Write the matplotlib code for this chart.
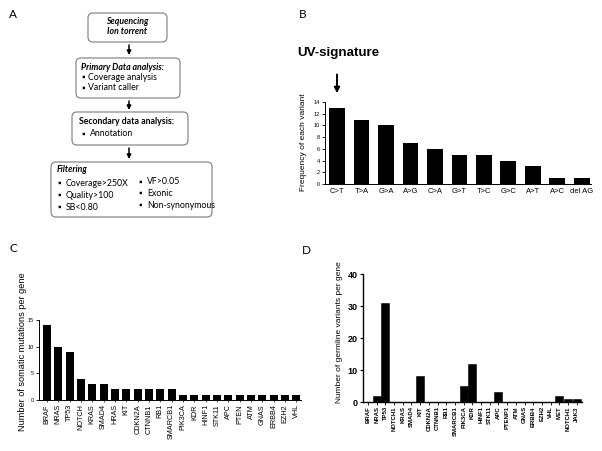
import numpy as np
import matplotlib
matplotlib.use("Agg")
import matplotlib.pyplot as plt
from matplotlib.patches import FancyBboxPatch

plt.rcParams["font.family"] = ["Liberation Sans", "DejaVu Sans"]

# ---- data -------------------------------------------------------------
uv_labels = ["C>T", "T>A", "G>A", "A>G", "C>A", "G>T", "T>C", "G>C", "A>T", "A>C", "del AG"]
uv_counts = [13, 11, 10, 7, 6, 5, 5, 4, 3, 1, 1]

somatic_genes = ["BRAF", "NRAS", "TP53", "NOTCH", "KRAS", "SMAD4", "HRAS", "KIT", "CDKN2A",
                 "CTNNB1", "RB1", "SMARCB1", "PIK3CA", "KDR", "HINF1", "STK11", "APC",
                 "PTEN", "ATM", "GNAS", "ERBB4", "EZH2", "VHL"]
somatic_counts = [14, 10, 9, 4, 3, 3, 2, 2, 2, 2, 2, 2, 1, 1, 1, 1, 1, 1, 1, 1, 1, 1, 1]

germline_genes = ["BRAF", "NRAS", "TP53", "NOTCH1", "KRAS", "SMAD4", "KIT", "CDKN2A", "CTNNB1",
                  "RB1", "SMARCB1", "PIK3CA", "KDR", "HINF1", "STK11", "APC", "PTENP1", "ATM",
                  "GNAS", "ERBB4", "EZH2", "VHL", "MET", "NOTCH1", "JAK3"]
germline_counts = [0, 2, 31, 0, 0, 0, 8, 0, 0, 0, 0, 5, 12, 0, 0, 3, 0, 0, 0, 0, 0, 0, 2, 1, 1]

W, H = 602, 451
fig = plt.figure(figsize=(W / 100, H / 100), dpi=100)

# overlay in pixel coordinates for panel A and panel letters
ov = fig.add_axes([0, 0, 1, 1])
ov.set_xlim(0, W)
ov.set_ylim(H, 0)
ov.axis("off")

FLOW = ["Lato", "DejaVu Sans"]
fs = 6.3

def box(x0, y0, x1, y1):
    p = FancyBboxPatch((x0, y0), x1 - x0, y1 - y0,
                       boxstyle="round,pad=0,rounding_size=5",
                       fc="white", ec="#8a8a8a", lw=0.9)
    ov.add_patch(p)

def arrow(x, y0, y1):
    ov.annotate("", xy=(x, y1), xytext=(x, y0),
                arrowprops=dict(arrowstyle="-|>", color="black", lw=1.1,
                                mutation_scale=6, shrinkA=0, shrinkB=0))

box(88, 13, 167, 42)
box(76, 58, 180, 98)
box(72, 112, 188, 145)
box(51, 162, 212, 217)
arrow(129, 45, 55)
arrow(129, 101, 110)
arrow(129, 148, 159)

txt = dict(family=FLOW, fontsize=fs, va="center")
ov.text(127, 22, "Sequencing", ha="center", weight="bold", style="italic", **txt)
ov.text(127, 32, "Ion torrent", ha="center", weight="bold", style="italic", **txt)

ov.text(81, 67, "Primary Data analysis:", ha="left", weight="bold", style="italic", **txt)
for y, s in [(77, "Coverage analysis"), (88, "Variant caller")]:
    ov.text(81, y, "\u25aa", ha="left", **txt)
    ov.text(88, y, s, ha="left", **txt)

ov.text(79, 122, "Secondary data analysis:", ha="left", weight="bold", **txt)
ov.text(81, 134, "\u25aa", ha="left", **txt)
ov.text(90, 134, "Annotation", ha="left", **txt)

ov.text(57, 169, "Filtering", ha="left", weight="bold", style="italic", **txt)
for y, s in [(183, "Coverage>250X"), (195, "Quality>100"), (207, "SB<0.80")]:
    ov.text(57, y, "\u25aa", ha="left", **txt)
    ov.text(66, y, s, ha="left", **txt)
for y, s in [(182, "VF>0.05"), (193, "Exonic"), (205, "Non-synonymous")]:
    ov.text(138, y, "\u25aa", ha="left", **txt)
    ov.text(147, y, s, ha="left", **txt)

for x, y, s in [(13, 14, "A"), (303, 14, "B"), (13, 248, "C"), (306, 250, "D")]:
    ov.text(x, y, s, family=FLOW, fontsize=8.5, ha="center", va="center")

ov.text(297, 53, "UV-signature", fontsize=9.6, weight="bold", ha="left", va="center")


def frac(x0, y0, x1, y1):
    return [x0 / W, 1 - y1 / H, (x1 - x0) / W, (y1 - y0) / H]


def style(ax, lw=0.7):
    for s in ("top", "right"):
        ax.spines[s].set_visible(False)
    for s in ("left", "bottom"):
        ax.spines[s].set_linewidth(lw)
    ax.patch.set_alpha(0)


# ---- B ----------------------------------------------------------------
axB = fig.add_axes(frac(325, 102, 591, 184))
xb = np.arange(len(uv_labels))
axB.bar(xb, uv_counts, width=0.65, color="black")
axB.set_xlim(-0.49, 10.37)
axB.set_ylim(0, 14)
axB.set_yticks(range(0, 15, 2))
axB.set_xticks(xb)
axB.set_xticklabels(uv_labels, fontsize=5.5)
axB.tick_params(axis="x", length=0, pad=3)
axB.tick_params(axis="y", labelsize=4, length=2, width=0.6, pad=1.5)
style(axB)
axB.set_ylabel("Frequency of each variant", fontsize=6)
axB.yaxis.set_label_coords(-0.068, 0.51)
axB.annotate("", xy=(0, 15.5), xytext=(0, 18.7), annotation_clip=False,
             arrowprops=dict(arrowstyle="-|>", color="black", lw=1.4,
                             mutation_scale=8, shrinkA=0, shrinkB=0))

# ---- C ----------------------------------------------------------------
axC = fig.add_axes(frac(39, 320, 301, 400))
xc = np.arange(len(somatic_genes))
axC.bar(xc, somatic_counts, width=0.7, color="black")
axC.set_xlim(-0.7, 22.4)
axC.set_ylim(0, 15)
axC.set_yticks([0, 5, 10, 15])
axC.set_xticks(xc)
axC.set_xticklabels(somatic_genes, rotation=90, fontsize=5.2)
axC.tick_params(axis="x", length=1.5, width=0.5, pad=1.5)
axC.tick_params(axis="y", labelsize=4, length=2, width=0.6, pad=1.5)
style(axC)
axC.set_ylabel("Number of somatic mutations per gene", fontsize=6.6)
axC.yaxis.set_label_coords(-0.046, 0.606)

# ---- D ----------------------------------------------------------------
axD = fig.add_axes(frac(363, 274, 582, 402))
xd = np.arange(len(germline_genes))
axD.bar(xd, germline_counts, width=0.92, color="black", edgecolor="black", linewidth=0.4)
axD.set_xlim(-0.57, 24.6)
axD.set_ylim(0, 40)
axD.set_yticks(range(0, 41, 10))
axD.set_yticklabels([str(v) for v in range(0, 41, 10)], fontsize=6.5, weight="bold")
axD.set_xticks(xd)
axD.set_xticklabels(germline_genes, rotation=90, fontsize=4.3, weight="bold")
axD.tick_params(axis="x", length=2, width=0.6, pad=1)
axD.tick_params(axis="y", length=2.5, width=0.8, pad=1.5)
style(axD, lw=1.0)
axD.set_ylabel("Number of germline variants per gene", fontsize=6,
               family=["Liberation Sans Narrow", "Liberation Sans"])
axD.yaxis.set_label_coords(-0.091, 0.547)

fig.savefig("out.png", dpi=100)
plt.close(fig)
